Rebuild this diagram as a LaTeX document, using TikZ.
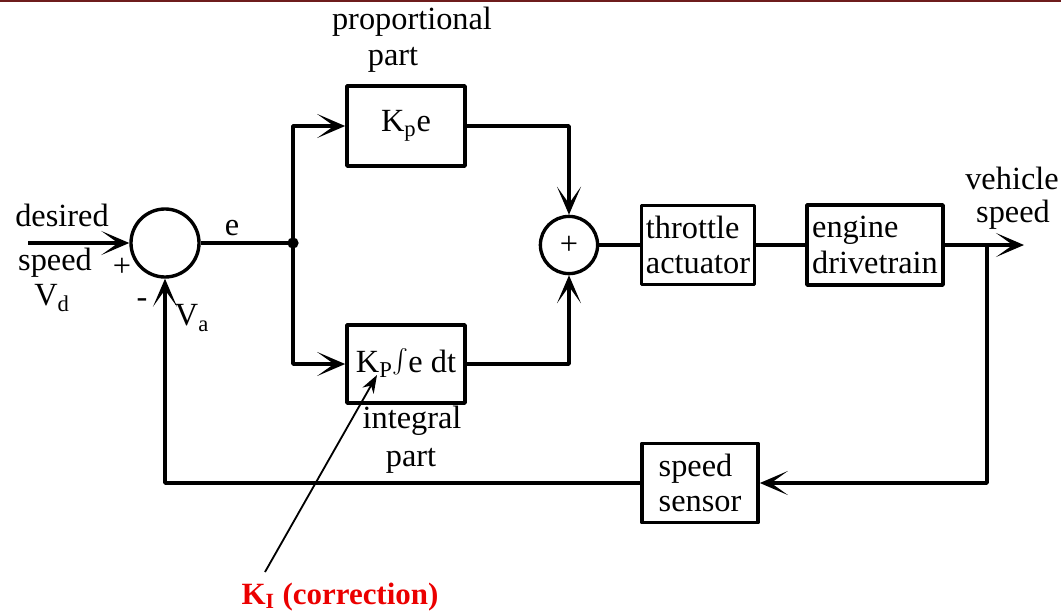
\documentclass[tikz,border=0pt]{standalone}
\usepackage{fontspec}
\usepackage{graphicx}
\setmainfont{Liberation Serif}
\usetikzlibrary{arrows.meta}
\definecolor{topline}{RGB}{110,28,28}
\definecolor{corrred}{RGB}{235,0,0}
\begin{document}
\begin{tikzpicture}[x=0.025cm,y=-0.025cm,line join=round,
  font=\fontsize{23}{25}\selectfont,line width=2.6pt,
  >={Stealth[length=0.7cm,width=0.6cm,inset=0.42cm]},
  blk/.style={draw,line width=2.6pt,inner sep=2pt,align=left},
  sum/.style={draw,circle,line width=2.4pt,inner sep=0pt}]
\useasboundingbox (0,0) rectangle (1061,613);
\draw[topline,line width=2pt] (0,1) -- (1061,1);
% blocks
\node[sum,minimum size=1.7cm] (sumA) at (165,243) {};
\node[sum,minimum size=1.43cm] (sumB) at (569,245) {+};
\node[blk,minimum width=2.95cm,minimum height=2cm] (prop) at (406,126) {K\textsubscript{p}e};
\node[blk,minimum width=2.95cm,minimum height=1.95cm] (intg) at (406,364) {K\textsubscript{P}\smash{\raisebox{-3pt}{\scalebox{1.7}{$\int$}}}e dt};
\node[blk,minimum width=2.83cm,minimum height=1.98cm] (thr) at (698,245) {throttle\\actuator};
\node[blk,minimum width=3.4cm,minimum height=2cm] (eng) at (875,245) {engine\\drivetrain};
\node[blk,minimum width=2.9cm,minimum height=1.98cm] (sens) at (700,483) {speed\\sensor};
\coordinate (in) at (28,243);
\coordinate (jn) at (293,243);
\coordinate (tap) at (987,245);
\coordinate (out) at (1024,245);
% signal lines
\draw[->] (in) -- (sumA.west);
\draw (sumA.east) -- (jn);
\fill (jn) circle (4pt);
\draw[->] (jn) |- (prop.west);
\draw[->] (jn) |- (intg.west);
\draw[->] (prop.east) -| (sumB.north);
\draw[->] (intg.east) -| (sumB.south);
\draw (sumB.east) -- (thr.west);
\draw (thr.east) -- (eng.west);
\draw[->] (eng.east) -- (out);
\draw[->] (tap) |- (sens.east);
\draw[->] (sens.west) -| (sumA.south);
% labels
\node (lprop) at (412,22) {proportional};
\node (lpropb) at (393,60) {part};
\node (lint) at (412,421) {integral};
\node (lintb) at (411,461) {part};
\node (le) at (232,228) {e};
\node (ldes) at (62,215) {desired};
\node (lspd) at (55,263) {speed};
\node (lvd) at (52,298) {V\textsubscript{d}};
\node (lplus) at (122,267) {+};
\node (lminus) at (142,303) {-};
\node (lva) at (192,318) {V\textsubscript{a}};
\node (lveh) at (1012,178) {vehicle};
\node (lvspd) at (1013,215) {speed};
% correction note
\node[text=corrred,font=\bfseries\fontsize{22}{24}\selectfont] (ki) at (340,597) {K\textsubscript{I} (correction)};
\coordinate (kibase) at (265,572);
\coordinate (kitip) at (377,375);
\draw[-{Stealth[length=0.45cm,width=0.32cm]},line width=1.3pt] (kibase) -- (kitip);
\end{tikzpicture}
\end{document}
